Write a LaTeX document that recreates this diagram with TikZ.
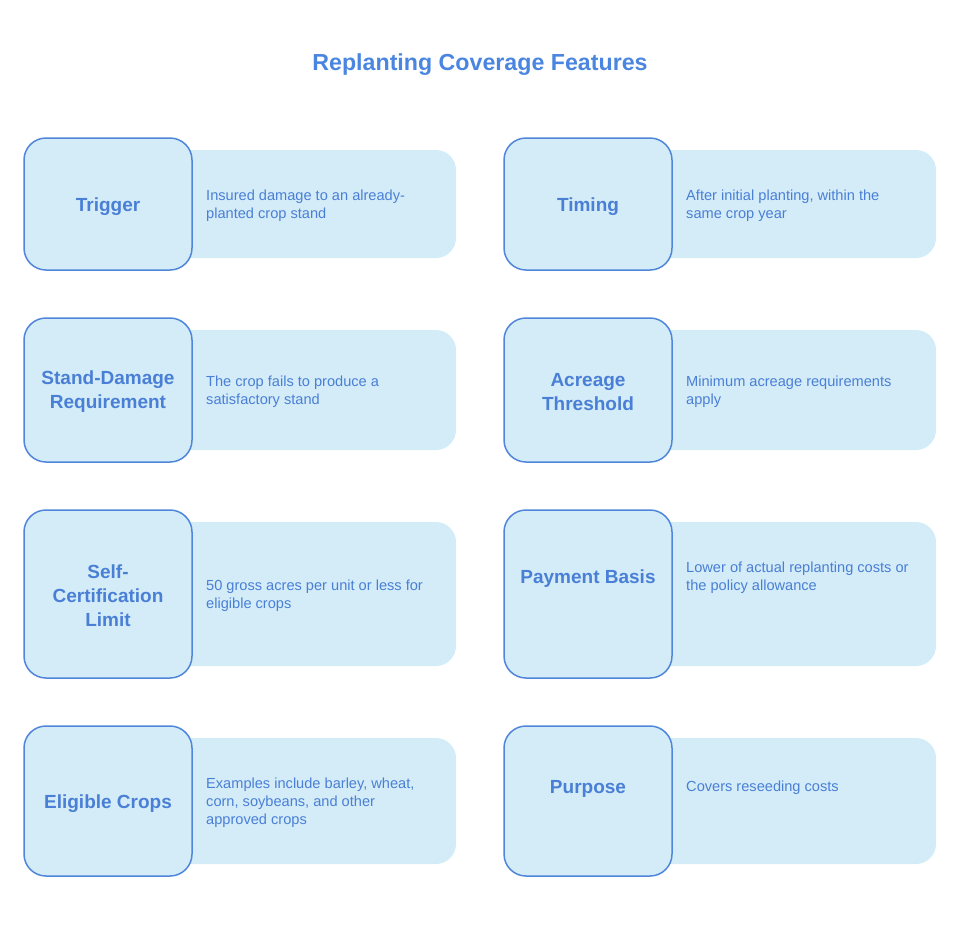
\documentclass[tikz,border=0pt]{standalone}
\usepackage{fontspec}
\setmainfont{Liberation Sans}
\usetikzlibrary{positioning}

\definecolor{boxfill}{HTML}{D3ECF8}
\definecolor{boxline}{HTML}{4F86DB}
\definecolor{inktext}{HTML}{4A7FD6}
\definecolor{titleblue}{HTML}{4A86E0}

\begin{document}
\begin{tikzpicture}[x=1pt, y=-1pt]

        % Setup the styles for the boxes and texts
        \tikzset{label box/.style={draw=boxline,
                                   line width=1.5pt,
                                   fill=boxfill,
                                   rounded corners=22pt,
                                   minimum width=168pt,
                                   inner sep=0pt},
                 desc box/.style={fill=boxfill,
                                  rounded corners=20pt,
                                  minimum width=296pt,
                                  inner sep=0pt},
                 label text/.style={text=inktext, align=center, inner sep=0pt,
                                    font=\fontsize{19}{24}\selectfont\bfseries},
                 desc text/.style={text=inktext, align=left, anchor=west, inner sep=0pt,
                                   font=\fontsize{14.6}{18}\selectfont}}

        \useasboundingbox (0, 0) rectangle (960, 924);

        % Title
        \node[text=titleblue, font=\fontsize{23.2}{28}\selectfont\bfseries]
                            at (480, 65)    (title)     {Replanting Coverage Features};

        % Row 1
        \node[desc box, minimum height=108pt] at (308, 204)   (triggerbg)   {};
        \node[label box, minimum height=132pt] at (108, 204)  (trigger)     {};
        \node[label text] at (108, 207)     (triggerlbl)  {Trigger};
        \node[desc text] at (206, 206)      (triggertxt)  {Insured damage to an already-\\planted crop stand};

        \node[desc box, minimum height=108pt] at (788, 204)   (timingbg)    {};
        \node[label box, minimum height=132pt] at (588, 204)  (timing)      {};
        \node[label text] at (588, 207)     (timinglbl)   {Timing};
        \node[desc text] at (686, 206)      (timingtxt)   {After initial planting, within the\\same crop year};

        % Row 2
        \node[desc box, minimum height=120pt] at (308, 390)   (standbg)     {};
        \node[label box, minimum height=144pt] at (108, 390)  (stand)       {};
        \node[label text] at (108, 392)     (standlbl)    {Stand-Damage\\Requirement};
        \node[desc text] at (206, 392)      (standtxt)    {The crop fails to produce a\\satisfactory stand};

        \node[desc box, minimum height=120pt] at (788, 390)   (acreagebg)   {};
        \node[label box, minimum height=144pt] at (588, 390)  (acreage)     {};
        \node[label text] at (588, 392)     (acreagelbl)  {Acreage\\Threshold};
        \node[desc text] at (686, 392)      (acreagetxt)  {Minimum acreage requirements\\apply};

        % Row 3
        \node[desc box, minimum height=144pt] at (308, 594)   (selfbg)      {};
        \node[label box, minimum height=168pt] at (108, 594)  (self)        {};
        \node[label text] at (108, 596)     (selflbl)     {Self-\\Certification\\Limit};
        \node[desc text] at (206, 596)      (selftxt)     {50 gross acres per unit or less for\\eligible crops};

        \node[desc box, minimum height=144pt] at (788, 594)   (paymentbg)   {};
        \node[label box, minimum height=168pt] at (588, 594)  (payment)     {};
        \node[label text] at (588, 579)     (paymentlbl)  {Payment Basis};
        \node[desc text] at (686, 578)      (paymenttxt)  {Lower of actual replanting costs or\\the policy allowance};

        % Row 4
        \node[desc box, minimum height=126pt] at (308, 801)   (cropsbg)     {};
        \node[label box, minimum height=150pt] at (108, 801)  (crops)       {};
        \node[label text] at (108, 804)     (cropslbl)    {Eligible Crops};
        \node[desc text] at (206, 803)      (cropstxt)    {Examples include barley, wheat,\\corn, soybeans, and other\\approved crops};

        \node[desc box, minimum height=126pt] at (788, 801)   (purposebg)   {};
        \node[label box, minimum height=150pt] at (588, 801)  (purpose)     {};
        \node[label text] at (588, 789)     (purposelbl)  {Purpose};
        \node[desc text] at (686, 788)      (purposetxt)  {Covers reseeding costs};
\end{tikzpicture}
\end{document}
